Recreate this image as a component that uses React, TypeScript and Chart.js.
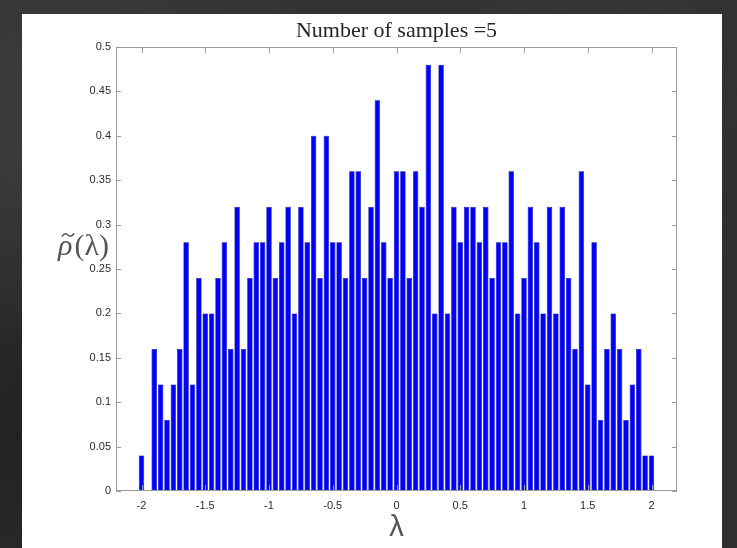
import React, { useEffect, useRef } from "react";
import { Chart, registerables } from "chart.js";

Chart.register(...registerables);

const binCenters = [
  -2, -1.95, -1.9, -1.85, -1.8, -1.75, -1.7, -1.65, -1.6, -1.55,
  -1.5, -1.45, -1.4, -1.35, -1.3, -1.25, -1.2, -1.15, -1.1, -1.05,
  -1, -0.95, -0.9, -0.85, -0.8, -0.75, -0.7, -0.65, -0.6, -0.55,
  -0.5, -0.45, -0.4, -0.35, -0.3, -0.25, -0.2, -0.15, -0.1, -0.05,
  0, 0.05, 0.1, 0.15, 0.2, 0.25, 0.3, 0.35, 0.4, 0.45,
  0.5, 0.55, 0.6, 0.65, 0.7, 0.75, 0.8, 0.85, 0.9, 0.95,
  1, 1.05, 1.1, 1.15, 1.2, 1.25, 1.3, 1.35, 1.4, 1.45,
  1.5, 1.55, 1.6, 1.65, 1.7, 1.75, 1.8, 1.85, 1.9, 1.95,
  2,
];

const density = [
  0.04, 0, 0.16, 0.12, 0.08, 0.12, 0.16, 0.28, 0.12, 0.24,
  0.2, 0.2, 0.24, 0.28, 0.16, 0.32, 0.16, 0.24, 0.28, 0.28,
  0.32, 0.24, 0.28, 0.32, 0.2, 0.32, 0.28, 0.4, 0.24, 0.4,
  0.28, 0.28, 0.24, 0.36, 0.36, 0.24, 0.32, 0.44, 0.28, 0.24,
  0.36, 0.36, 0.24, 0.36, 0.32, 0.48, 0.2, 0.48, 0.2, 0.32,
  0.28, 0.32, 0.32, 0.28, 0.32, 0.24, 0.28, 0.28, 0.36, 0.2,
  0.24, 0.32, 0.28, 0.2, 0.32, 0.2, 0.32, 0.24, 0.16, 0.36,
  0.12, 0.28, 0.08, 0.16, 0.2, 0.16, 0.08, 0.12, 0.16, 0.04,
  0.04,
];

const xTicks = [-2, -1.5, -1, -0.5, 0, 0.5, 1, 1.5, 2];
const yTicks = [0, 0.05, 0.1, 0.15, 0.2, 0.25, 0.3, 0.35, 0.4, 0.45, 0.5];

const titleText = "Number of samples =5";
const xLabelText = "λ";
const yLabelMain = "ρ";
const yLabelArg = "(λ)";

const fmt = (v: number) => String(Number(Number(v).toFixed(2)));

const decorPlugin = {
  id: "decor",
  afterDraw(chart: any) {
    const { ctx, chartArea: a, scales } = chart;
    const x = scales.x;
    const y = scales.y;
    ctx.save();
    ctx.strokeStyle = "#9c9c9c";
    ctx.lineWidth = 1;
    ctx.strokeRect(a.left + 0.5, a.top + 0.5, a.right - a.left - 1, a.bottom - a.top - 1);
    ctx.beginPath();
    for (const t of x.ticks) {
      const px = Math.round(x.getPixelForValue(t.value)) + 0.5;
      ctx.moveTo(px, a.bottom);
      ctx.lineTo(px, a.bottom - 6);
      ctx.moveTo(px, a.top);
      ctx.lineTo(px, a.top + 6);
    }
    for (const t of y.ticks) {
      const py = Math.round(y.getPixelForValue(t.value)) + 0.5;
      ctx.moveTo(a.left, py);
      ctx.lineTo(a.left + 5, py);
      ctx.moveTo(a.right, py);
      ctx.lineTo(a.right - 5, py);
    }
    ctx.stroke();

    // title
    ctx.fillStyle = "#262626";
    ctx.font = '22px "Liberation Serif", "Times New Roman", serif';
    ctx.textAlign = "center";
    ctx.textBaseline = "alphabetic";
    ctx.fillText(titleText, (a.left + a.right) / 2, 37);

    // x label
    ctx.fillStyle = "#555555";
    ctx.font = '29px "Liberation Sans", Arial, sans-serif';
    ctx.fillText(xLabelText, (a.left + a.right) / 2, 536);

    // y label: italic rho with a tilde, then (lambda)
    ctx.textAlign = "left";
    ctx.font = 'italic 30px "Liberation Serif", "Times New Roman", serif';
    const x0 = 58;
    const base = 255;
    ctx.fillText(yLabelMain, x0, base);
    const w1 = ctx.measureText(yLabelMain).width;
    // tilde accent
    const tx = x0 + 4;
    const tw = 12;
    const ty = 235;
    ctx.strokeStyle = "#555555";
    ctx.lineWidth = 1.6;
    ctx.beginPath();
    ctx.moveTo(tx, ty + 1.5);
    ctx.bezierCurveTo(tx + 3, ty - 3, tx + 5, ty - 1, tx + tw / 2, ty);
    ctx.bezierCurveTo(tx + 7, ty + 1, tx + 9, ty + 3, tx + tw, ty - 1.5);
    ctx.stroke();
    ctx.font = '30px "Liberation Serif", "Times New Roman", serif';
    ctx.fillText(yLabelArg, x0 + w1 + 2, base);
    ctx.restore();
  },
};

export default function App() {
  const ref = useRef<HTMLCanvasElement | null>(null);

  useEffect(() => {
    if (!ref.current) return;
    const chart = new Chart(ref.current, {
      type: "bar",
      data: {
        datasets: [
          {
            data: binCenters.map((c, i) => ({ x: c, y: density[i] })),
            backgroundColor: "#0000ff",
            borderColor: "#00007a",
            borderWidth: 0.6,
            barPercentage: 0.86,
            categoryPercentage: 1,
          },
        ],
      },
      options: {
        responsive: false,
        animation: false,
        devicePixelRatio: 1,
        layout: { padding: { left: 0, right: 60, top: 47, bottom: 0 } },
        plugins: {
          legend: { display: false },
          tooltip: { enabled: false },
          title: { display: false },
        },
        scales: {
          x: {
            type: "linear",
            min: -2.2,
            max: 2.2,
            offset: false,
            grid: { display: false, drawTicks: false },
            border: { display: false },
            afterBuildTicks: (s: any) => {
              s.ticks = xTicks.map((v) => ({ value: v }));
            },
            afterFit: (s: any) => {
              s.height = 57;
            },
            ticks: {
              padding: 8,
              autoSkip: false,
              maxRotation: 0,
              color: "#2a2a2a",
              font: { family: '"Liberation Sans", Arial, sans-serif', size: 11 },
              callback: (v: any) => fmt(v),
            },
          },
          y: {
            type: "linear",
            min: 0,
            max: 0.5,
            grid: { display: false, drawTicks: false },
            border: { display: false },
            afterBuildTicks: (s: any) => {
              s.ticks = yTicks.map((v) => ({ value: v }));
            },
            afterFit: (s: any) => {
              s.width = 116;
            },
            ticks: {
              padding: 5,
              autoSkip: false,
              color: "#2a2a2a",
              font: { family: '"Liberation Sans", Arial, sans-serif', size: 11 },
              callback: (v: any) => fmt(v),
            },
          },
        },
      },
      plugins: [decorPlugin],
    } as any);
    return () => chart.destroy();
  }, []);

  return (
    <div
      style={{
        position: "fixed",
        left: 0,
        top: 0,
        width: 737,
        height: 548,
        overflow: "hidden",
        background:
          "radial-gradient(ellipse at 10% 20%, rgba(70,72,72,0.6), rgba(0,0,0,0) 40%), radial-gradient(ellipse at 80% 5%, rgba(60,60,60,0.5), rgba(0,0,0,0) 35%), radial-gradient(ellipse at 5% 80%, rgba(25,25,25,0.6), rgba(0,0,0,0) 40%), #2e2f2f",
      }}
    >
      <div
        style={{
          position: "absolute",
          left: 22,
          top: 14,
          width: 700,
          height: 534,
          background: "#ffffff",
        }}
      />
      <canvas
        ref={ref}
        width={737}
        height={548}
        style={{ position: "absolute", left: 0, top: 0, width: 737, height: 548 }}
      />
    </div>
  );
}
